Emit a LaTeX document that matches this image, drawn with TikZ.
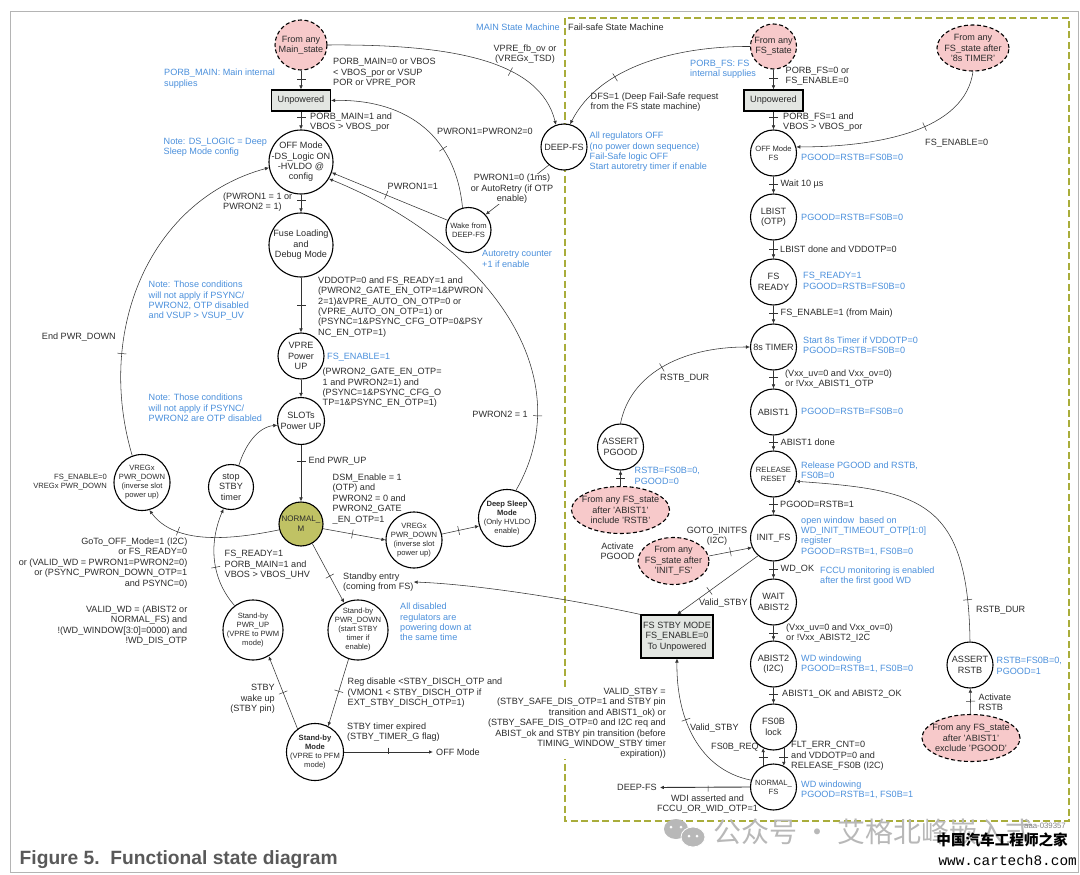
\documentclass[tikz,border=0pt]{standalone}
\usepackage{fontspec}
\setmainfont{Liberation Sans}
\setmonofont{Liberation Mono}
\newfontfamily\cjkfont{Noto Sans CJK SC}
\usepackage{xcolor}
\usepackage{tikz}
\usetikzlibrary{arrows.meta,shapes.geometric,decorations.markings}
\definecolor{cText}{HTML}{2B2B2B}
\definecolor{cBlue}{HTML}{4A8FDB}
\definecolor{cPink}{HTML}{F7C9CA}
\definecolor{cOlive}{HTML}{C0C264}
\definecolor{cDash}{HTML}{A9AD3B}
\definecolor{cBox}{HTML}{E3E6E2}
\definecolor{cFrame}{HTML}{B4B4B4}
\definecolor{cLine}{HTML}{333333}
\definecolor{cMark}{HTML}{B8B8B8}
\definecolor{cTitle}{HTML}{595959}

\begin{document}
\begin{tikzpicture}[x=1pt, y=-1pt,
  base/.style={inner sep=0pt, text=cText, align=center,
    font=\fontsize{9.1}{10.4}\selectfont},
  state/.style={base, circle, draw=black, fill=white, line width=1.1pt,
    inner sep=-11pt, minimum size=46pt},
  small/.style={font=\fontsize{7.6}{9}\selectfont},
  start/.style={base, ellipse, draw=black, fill=cPink, line width=1.1pt,
    dash pattern=on 4pt off 2.5pt, inner sep=-11pt},
  box/.style={base, rectangle, draw=black, fill=cBox, line width=1.1pt},
  lbl/.style={base, anchor=west, align=left},
  rlbl/.style={base, anchor=east, align=right},
  clbl/.style={base},
  note/.style={lbl, text=cBlue},
  arr/.style={-{Latex[length=4pt,width=3.6pt]}, line width=0.55pt, color=cLine},
  heavy/.style={arr, line width=0.9pt, shorten >=3pt},
  tk/.style={postaction={decorate, decoration={markings,
    mark=at position #1 with {\draw[-, line width=0.5pt, color=cLine] (0,-4.5) -- (0,4.5);}}}}]

  \useasboundingbox (0,0) rectangle (1080,875);
  \draw[cFrame, line width=1pt] (10,12) rectangle (1078,872);
  \draw[cDash, line width=1.1pt, dash pattern=on 7pt off 3.5pt] (565,18) rectangle (1069,821);

  % main state machine
  \node[start, minimum width=52pt, minimum height=50pt] (frommain) at (301,45) {From any\\Main\_state};
  \node[box, minimum width=59pt, minimum height=21pt] (unpowm) at (301,100.5) {Unpowered};
  \node[state, minimum size=64pt] (offm) at (301,162) {OFF Mode\\-DS\_Logic ON\\-HVLDO @\\config};
  \node[state, minimum size=64pt] (fuse) at (301,245) {Fuse Loading\\and\\Debug Mode};
  \node[state] (vpre) at (301,356) {VPRE\\Power\\UP};
  \node[state, minimum size=47pt] (slots) at (301,421) {SLOTs\\Power UP};
  \node[state, fill=cOlive, minimum size=44pt, font=\fontsize{8}{10}\selectfont] (normm) at (301,524) {NORMAL\_\\M};
  \node[state, small, minimum size=45pt] (wake) at (468.5,230) {Wake from\\DEEP-FS};
  \node[state] (deepfs) at (564,147) {DEEP-FS};
  \node[state, small, minimum size=56pt] (vregl) at (142,482.5) {VREGx\\PWR\_DOWN\\(inverse slot\\power up)};
  \node[state, minimum size=45pt] (stop) at (231,487) {stop\\STBY\\timer};
  \node[state, small, minimum size=56pt] (vregr) at (414,540) {VREGx\\PWR\_DOWN\\(inverse slot\\power up)};
  \node[state, small, minimum size=57pt] (dsleep) at (507,518) {\textbf{Deep Sleep}\\\textbf{Mode}\\(Only HVLDO\\enable)};
  \node[state, small, minimum size=60pt] (pwru) at (253,630) {Stand-by\\PWR\_UP\\(VPRE to PWM\\mode)};
  \node[state, small, minimum size=60pt] (pwrd) at (358,630) {Stand-by\\PWR\_DOWN\\(start STBY\\timer if\\enable)};
  \node[state, small, minimum size=57pt] (stbym) at (315,752) {\textbf{Stand-by}\\\textbf{Mode}\\(VPRE to PFM\\mode)};

  % fail-safe state machine
  \node[start, minimum width=46pt, minimum height=45pt] (fromfs) at (773.5,46.5) {From any\\FS\_state};
  \node[start, minimum width=72pt, minimum height=46pt] (from8s) at (973,48) {From any\\FS\_state after\\'8s TIMER'};
  \node[box, minimum width=59pt, minimum height=21pt] (unpowf) at (773.5,100.5) {Unpowered};
  \node[state, small] (offf) at (773.5,153) {OFF Mode\\FS};
  \node[state] (lbist) at (773.5,217) {LBIST\\(OTP)};
  \node[state] (ready) at (773.5,282) {FS\\READY};
  \node[state] (timer) at (773.5,347) {8s TIMER};
  \node[state] (abist1) at (773.5,412) {ABIST1};
  \node[state, small] (release) at (773.5,474) {RELEASE\\RESET};
  \node[state] (initfs) at (773.5,538) {INIT\_FS};
  \node[state] (wait) at (773.5,602) {WAIT\\ABIST2};
  \node[state] (abist2) at (773.5,664) {ABIST2\\(I2C)};
  \node[state] (fs0b) at (773.5,727) {FS0B\\lock};
  \node[state, small] (normf) at (773.5,787) {NORMAL\_\\FS};
  \node[state] (apgood) at (620.5,447) {ASSERT\\PGOOD};
  \node[start, minimum width=98pt, minimum height=47pt] (fromrstb) at (620.5,510) {From any FS\_state\\after 'ABIST1'\\include 'RSTB'};
  \node[start, minimum width=71pt, minimum height=47pt] (frominit) at (673.5,561) {From any\\FS\_state after\\'INIT\_FS'};
  \node[box, minimum width=72pt, minimum height=43pt] (fsstby) at (677,636.5) {FS STBY MODE\\FS\_ENABLE=0\\To Unpowered};
  \node[state] (arstb) at (970,665) {ASSERT\\RSTB};
  \node[start, minimum width=98pt, minimum height=47pt] (frompgood) at (971,738) {From any FS\_state\\after 'ABIST1'\\exclude 'PGOOD'};

  \draw[arr] (deepfs.230) -- (wake.42);

  % texts of the main side
  \node[note] (tmainsm) at (476,27) {MAIN State Machine};
  \node[lbl] (tfailsm) at (568,27) {Fail-safe State Machine};
  \node[lbl] (tporb0) at (333,73) {PORB\_MAIN=0 or VBOS\\< VBOS\_por or VSUP\\POR or VPRE\_POR};
  \node[note] (tporbm) at (164,78.5) {PORB\_MAIN: Main internal\\supplies};
  \node[clbl] (tvprefb) at (525,54) {VPRE\_fb\_ov or\\(VREGx\_TSD)};
  \node[lbl] (tporb1) at (310,122) {PORB\_MAIN=1 and\\VBOS > VBOS\_por};
  \node[lbl] (tpwr0) at (437,131) {PWRON1=PWRON2=0};
  \node[note] (tdslog) at (163.5,147) {Note: DS\_LOGIC = Deep\\Sleep Mode config};
  \node[clbl, fill=white] (tretry) at (512,189) {PWRON1=0 (1ms)\\or AutoRetry (if OTP\\enable)};
  \node[lbl] (tpwr1) at (387.5,186) {PWRON1=1};
  \node[lbl] (tpwr12) at (223,202) {(PWRON1 = 1 or\\PWRON2 = 1)};
  \node[note] (tcount) at (482,259) {Autoretry counter\\+1 if enable};
  \node[lbl] (tvdd) at (318,307) {VDDOTP=0 and FS\_READY=1 and\\(PWRON2\_GATE\_EN\_OTP=1\&PWRON\\2=1)\&VPRE\_AUTO\_ON\_OTP=0 or\\(VPRE\_AUTO\_ON\_OTP=1) or\\(PSYNC=1\&PSYNC\_CFG\_OTP=0\&PSY\\NC\_EN\_OTP=1)};
  \node[note] (tnote1) at (148.5,301) {Note: Those conditions\\will not apply if PSYNC/\\PWRON2, OTP disabled\\and VSUP > VSUP\_UV};
  \node[rlbl] (tendown) at (116,337) {End PWR\_DOWN};
  \node[note] (tfsen1) at (327,357) {FS\_ENABLE=1};
  \node[lbl] (tgate) at (322.5,388) {(PWRON2\_GATE\_EN\_OTP=\\1 and PWRON2=1) and\\(PSYNC=1\&PSYNC\_CFG\_O\\TP=1\&PSYNC\_EN\_OTP=1)};
  \node[note] (tnote2) at (148.5,408) {Note: Those conditions\\will not apply if PSYNC/\\PWRON2 are OTP disabled};
  \node[rlbl] (tpwr2) at (528,414) {PWRON2 = 1};
  \node[lbl] (tenup) at (308.5,461) {End PWR\_UP};
  \node[rlbl, small] (tfsen0) at (107,482) {FS\_ENABLE=0\\VREGx PWR\_DOWN};
  \node[lbl] (tdsm) at (332.5,499) {DSM\_Enable = 1\\(OTP) and\\PWRON2 = 0 and\\PWRON2\_GATE\\\_EN\_OTP=1};
  \node[rlbl] (tgoto) at (187.5,563) {GoTo\_OFF\_Mode=1 (I2C)\\or FS\_READY=0\\or (VALID\_WD = PWRON1=PWRON2=0)\\or (PSYNC\_PWRON\_DOWN\_OTP=1\\and PSYNC=0)};
  \node[lbl] (tready) at (224.5,565) {FS\_READY=1\\PORB\_MAIN=1 and\\VBOS > VBOS\_UHV};
  \node[lbl] (tentry) at (343,582) {Standby entry\\(coming from FS)};
  \node[rlbl] (tvalid) at (187.5,625.5) {VALID\_WD = (ABIST2 or\\NORMAL\_FS) and\\!(WD\_WINDOW[3:0]=0000) and\\!WD\_DIS\_OTP};
  \node[note] (tdis) at (400,622) {All disabled\\regulators are\\powering down at\\the same time};
  \node[rlbl] (twake) at (275,699) {STBY\\wake up\\(STBY pin)};
  \node[lbl] (treg) at (347.5,693) {Reg disable <STBY\_DISCH\_OTP and\\(VMON1 < STBY\_DISCH\_OTP if\\EXT\_STBY\_DISCH\_OTP=1)};
  \node[lbl] (tstbyt) at (347,732) {STBY timer expired\\(STBY\_TIMER\_G flag)};
  \node[lbl] (toff) at (436,752) {OFF Mode};
  \node[lbl, text=cTitle, font=\fontsize{19.2}{22}\selectfont\bfseries] (title) at (19.5,860) {Figure 5.\ \ Functional state diagram};

  % texts of the fail-safe side
  \node[lbl] (tdfs) at (590.5,102) {DFS=1 (Deep Fail-Safe request\\from the FS state machine)};
  \node[note] (tporbf) at (690,69) {PORB\_FS: FS\\internal supplies};
  \node[lbl] (tporbf0) at (785.5,76.5) {PORB\_FS=0 or\\FS\_ENABLE=0};
  \node[lbl] (tporbf1) at (783,122) {PORB\_FS=1 and\\VBOS > VBOS\_por};
  \node[note] (tregoff) at (589.5,152) {All regulators OFF\\(no power down sequence)\\Fail-Safe logic OFF\\Start autoretry timer if enable};
  \node[lbl] (tfsoff) at (925,143) {FS\_ENABLE=0};
  \node[note] (tpg1) at (801,157) {PGOOD=RSTB=FS0B=0};
  \node[lbl] (twait) at (780.5,184) {Wait 10 µs};
  \node[note] (tpg2) at (801,217) {PGOOD=RSTB=FS0B=0};
  \node[lbl] (tlbist) at (780,249) {LBIST done and VDDOTP=0};
  \node[note] (tpg3) at (803,281) {FS\_READY=1\\PGOOD=RSTB=FS0B=0};
  \node[lbl] (tfsmain) at (780.5,313) {FS\_ENABLE=1 (from Main)};
  \node[note] (tpg4) at (803,345) {Start 8s Timer if VDDOTP=0\\PGOOD=RSTB=FS0B=0};
  \node[lbl] (tdur1) at (660,378) {RSTB\_DUR};
  \node[lbl] (tvxx1) at (785,379) {(Vxx\_uv=0 and Vxx\_ov=0)\\or !Vxx\_ABIST1\_OTP};
  \node[note] (tpg5) at (801,411) {PGOOD=RSTB=FS0B=0};
  \node[lbl] (tabdone) at (780.5,442) {ABIST1 done};
  \node[note] (trel) at (801,470) {Release PGOOD and RSTB,\\FS0B=0};
  \node[note] (trst0) at (634.5,476) {RSTB=FS0B=0,\\PGOOD=0};
  \node[lbl] (tpgrst) at (780,504) {PGOOD=RSTB=1};
  \node[note] (topen) at (801,536) {open window\ \ based on\\WD\_INIT\_TIMEOUT\_OTP[1:0]\\register\\PGOOD=RSTB=1, FS0B=0};
  \node[clbl] (tinit) at (717,536) {GOTO\_INITFS\\(I2C)};
  \node[clbl] (tactp) at (617.5,551) {Activate\\PGOOD};
  \node[lbl] (twdok) at (780.5,569) {WD\_OK};
  \node[note] (tfccu) at (820,576) {FCCU monitoring is enabled\\after the first good WD};
  \node[lbl] (tvs1) at (699,603) {Valid\_STBY};
  \node[lbl] (tdur2) at (976,610) {RSTB\_DUR};
  \node[lbl] (tvxx2) at (786,633) {(Vxx\_uv=0 and Vxx\_ov=0)\\or !Vxx\_ABIST2\_I2C};
  \node[note] (twd1) at (801,664) {WD windowing\\PGOOD=RSTB=1, FS0B=0};
  \node[note] (trst1) at (996.5,666) {RSTB=FS0B=0,\\PGOOD=1};
  \node[lbl] (tabok) at (782,694) {ABIST1\_OK and ABIST2\_OK};
  \node[lbl] (tactr) at (978.5,702) {Activate\\RSTB};
  \node[rlbl, fill=white] (tvalstby) at (666,723.5) {VALID\_STBY =\\(STBY\_SAFE\_DIS\_OTP=1 and STBY pin\\transition and ABIST1\_ok) or\\(STBY\_SAFE\_DIS\_OTP=0 and I2C req and\\ABIST\_ok and STBY pin transition (before\\TIMING\_WINDOW\_STBY timer\\expiration))};
  \node[lbl] (tvs2) at (690,728.5) {Valid\_STBY};
  \node[lbl] (tfsreq) at (711,747) {FS0B\_REQ};
  \node[lbl] (tflt) at (791,756) {FLT\_ERR\_CNT=0\\and VDDOTP=0 and\\RELEASE\_FS0B (I2C)};
  \node[note] (twd2) at (801,790) {WD windowing\\PGOOD=RSTB=1, FS0B=1};
  \node[lbl] (tdeep) at (617,787.5) {DEEP-FS};
  \node[clbl] (twdi) at (707.5,804) {WDI asserted and\\FCCU\_OR\_WID\_OTP=1};

  % connectors of the main side
  \draw[arr, tk=.45] (frommain) -- (unpowm);
  \draw[arr, tk=.32] (unpowm) -- (offm);
  \draw[arr, tk=.3] (offm) -- (fuse);
  \draw[arr, tk=.5] (fuse) -- (vpre);
  \draw[arr] (vpre) -- (slots);
  \draw[arr, tk=.29] (slots) -- (normm);
  \draw[arr, tk=.72] (frommain.east) .. controls (450,44) and (540,60) .. (deepfs.110);
  \draw[arr, tk=.68] (fromfs.west) .. controls (680,46) and (600,65) .. (deepfs.75);
  \draw[arr, tk=.33] (wake.105) .. controls (455,130) and (400,99) .. (unpowm.east);
  \draw[arr, tk=.53] (wake.155) -- (offm.-19);
  \draw[arr, tk=.19] (dsleep.72) .. controls (585,370) and (480,240) .. (offm.-31);
  \draw[arr, tk=.29] (vregl.110) .. controls (95,330) and (150,200) .. (offm.190);
  \draw[arr, tk=.74] (normm.195) .. controls (230,540) and (175,545) .. (vregl.-75);
  \draw[arr, tk=.47] (normm.-12) -- (vregr.180);
  \draw[arr, tk=.45] (vregr.12) -- (dsleep.196);
  \draw[arr, tk=.55] (normm.-60) -- (pwrd.117);
  \draw[arr, tk=.48] (pwrd.-108) -- (stbym.63);
  \draw[arr, tk=.5] (stbym.127) -- (pwru.-59);
  \draw[arr, tk=.42] (pwru.127) .. controls (212,580) and (208,545) .. (stop.-109);
  \draw[arr] (stop.70) .. controls (245,445) and (258,427) .. (slots.190);
  \draw[heavy, tk=.48] (stbym.east) -- (toff.west);
  \draw[arr] (fsstby.north west) .. controls (560,597) and (470,584) .. (tentry.east);

  % connectors of the fail-safe side
  \draw[arr, tk=.43] (fromfs) -- (unpowf);
  \draw[arr, tk=.32] (unpowf) -- (offf);
  \draw[arr, tk=.45] (offf) -- (lbist);
  \draw[arr, tk=.47] (lbist) -- (ready);
  \draw[arr, tk=.42] (ready) -- (timer);
  \draw[arr, tk=.37] (timer) -- (abist1);
  \draw[arr, tk=.44] (abist1) -- (release);
  \draw[arr, tk=.39] (release) -- (initfs);
  \draw[arr, tk=.44] (initfs) -- (wait);
  \draw[arr, tk=.5] (wait) -- (abist2);
  \draw[arr, tk=.41] (abist2) -- (fs0b);
  \draw[arr, tk=.5] (normf.116) -- (fs0b.244);
  \draw[arr, tk=.5] (fs0b.296) -- (normf.64);
  \draw[arr, tk=.37] (from8s.south) .. controls (965,130) and (880,147) .. (offf.15);
  \draw[arr, tk=.44] (apgood.north) .. controls (630,375) and (680,347) .. (timer.west);
  \draw[arr, tk=.47] (fromrstb) -- (apgood);
  \draw[arr, tk=.5] (frominit.8) -- (initfs.204);
  \draw[arr, tk=.6] (initfs.229) -- (fsstby.north);
  \draw[arr, tk=.6] (normf.163) .. controls (700,770) and (676,720) .. (fsstby.south);
  \draw[heavy, tk=.45] (normf.west) -- (tdeep.east);
  \draw[arr, tk=.15] (arstb.north) .. controls (968,500) and (920,490) .. (release.-18);
  \draw[arr, tk=.5] (frompgood) -- (arstb);

  % page marks
  \fill[cMark] (676,829) ellipse (12 and 10);
  \fill[cMark, draw=white, line width=0.8pt] (693,837) ellipse (12 and 10);
  \foreach \px/\py in {671/827,681/827,689/836,697/836} \fill[white] (\px,\py) circle (1.5);
  \node[lbl, text=cMark, font=\fontsize{28}{30}\selectfont\cjkfont] (wmark) at (713,832) {公众号 · 艾格北峰嵌入式};
  \node[rlbl, text=gray, font=\fontsize{7.8}{9}\selectfont] (tid) at (1066,826) {aaa-039357};
  \node[rlbl, text=black, font=\fontsize{14.6}{16}\selectfont\cjkfont\bfseries] (wsite) at (1068,840) {中国汽车工程师之家};
  \node[rlbl, text=black, font=\fontsize{14.4}{16}\selectfont\ttfamily] (wurl) at (1077,860) {www.cartech8.com};
\end{tikzpicture}
\end{document}
